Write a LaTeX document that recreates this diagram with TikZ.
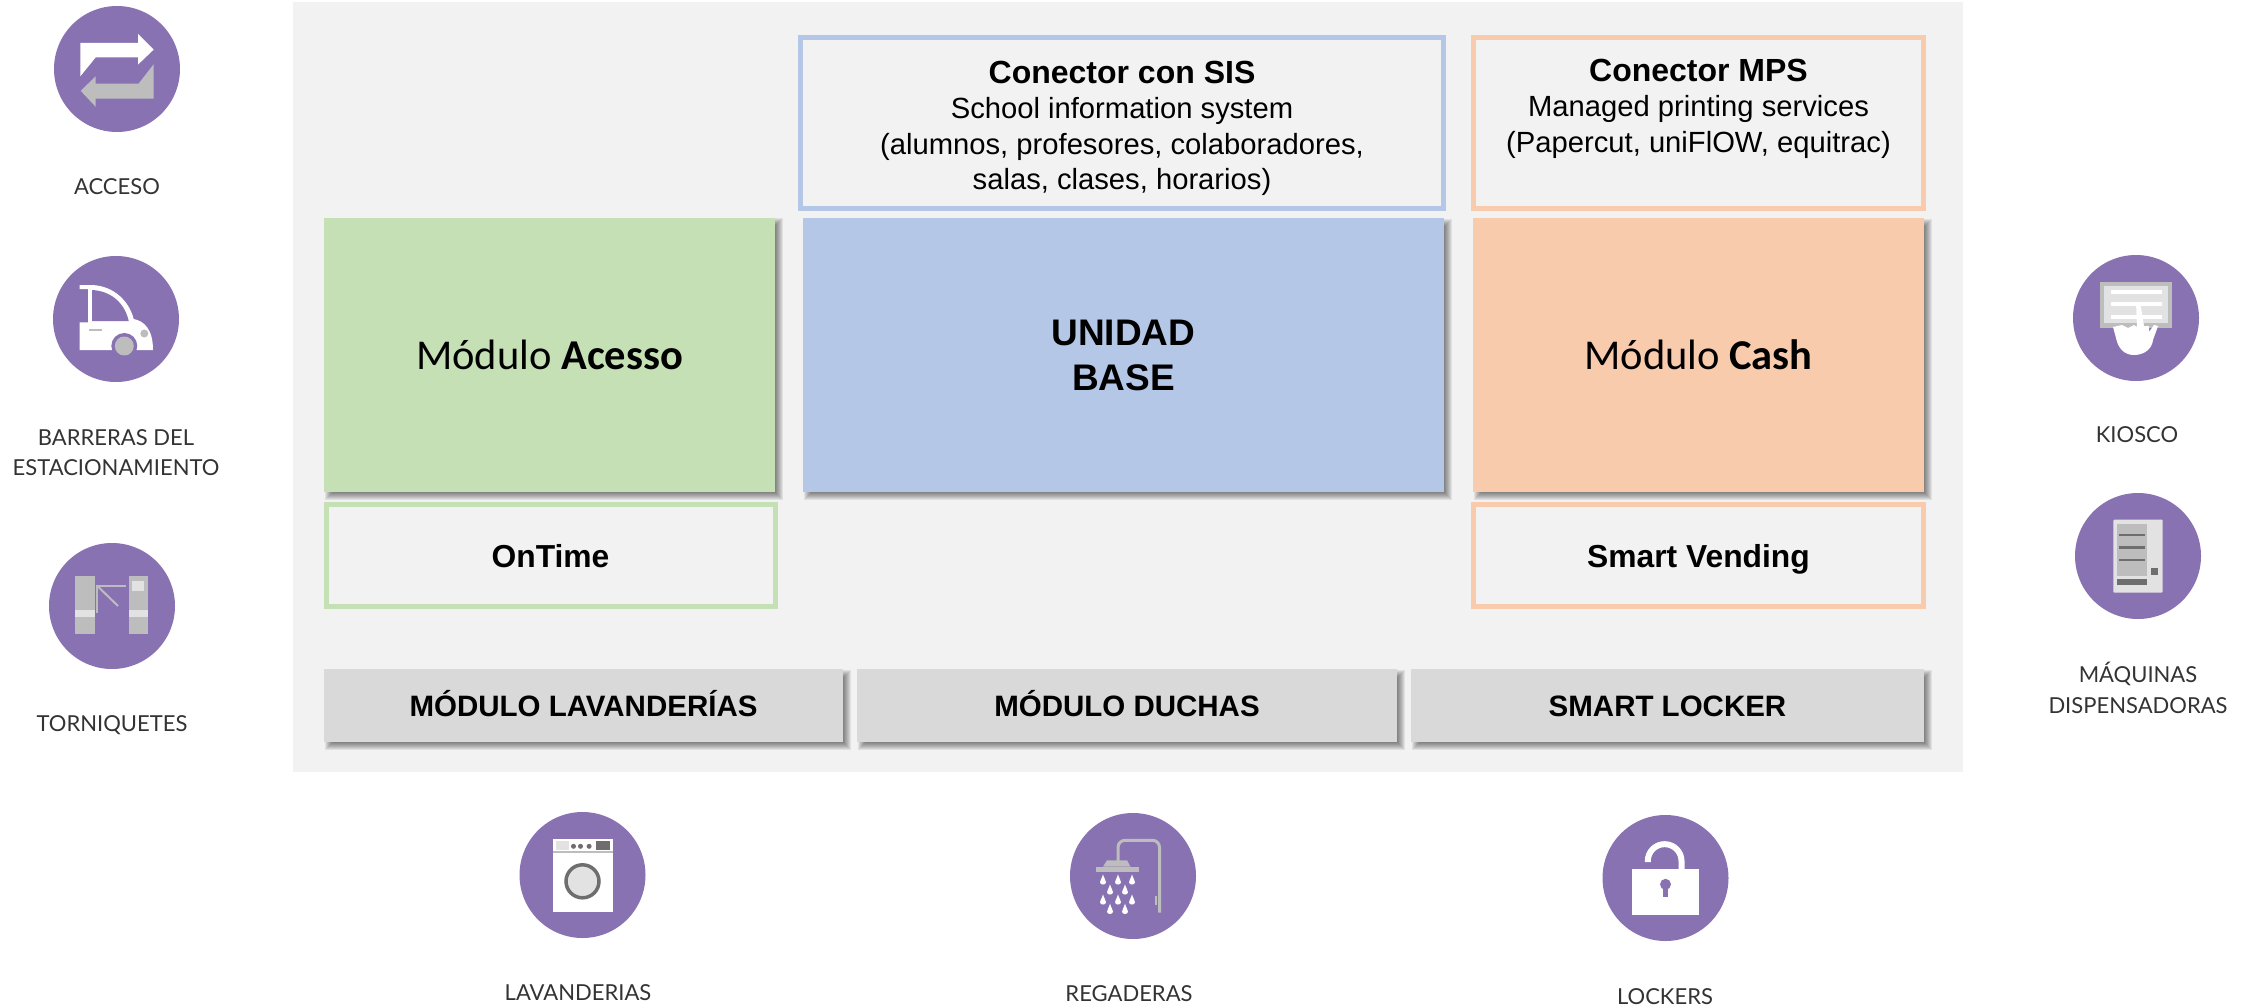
\documentclass[tikz,border=0pt]{standalone}
\usepackage{fontspec}
\setmainfont{Liberation Sans}
\newfontfamily\calfont{Carlito}
\newfontfamily\lblfont{Lato}
\definecolor{panelgray}{HTML}{F2F2F2}
\definecolor{modgreen}{HTML}{C5E0B4}
\definecolor{modblue}{HTML}{B4C7E7}
\definecolor{modorange}{HTML}{F8CBAD}
\definecolor{modgray}{HTML}{D9D9D9}
\definecolor{iconpurple}{HTML}{8872B2}
\definecolor{icongray}{HTML}{BDBDBD}
\definecolor{iconlight}{HTML}{E3E2E3}
\definecolor{icondark}{HTML}{6E6E6E}
\pgfdeclarelayer{backlayer}
\pgfdeclarelayer{shadowlayer}
\pgfsetlayers{backlayer,shadowlayer,main}
\newcommand{\conntitle}[1]{{\bfseries\fontsize{32}{35.5}\selectfont #1}}
\tikzset{
	modbox/.style={rectangle,inner sep=0pt,align=center},
	barbox/.style={fill=modgray,minimum height=73pt,text height=21pt,text depth=0pt,font=\bfseries\fontsize{29.5}{29.5}\selectfont},
	framebox/.style={rectangle,draw,line width=5pt,inner sep=0pt,align=center,text height=23pt,text depth=0pt,font=\bfseries\fontsize{31.8}{31.8}\selectfont},
	frametext/.style={inner sep=0pt,align=center,font=\fontsize{29.2}{35.5}\selectfont},
	iconcircle/.style={circle,fill=iconpurple,minimum size=126pt,inner sep=0pt},
	iconlabel/.style={inner sep=0pt,align=center,text=black!80,font=\lblfont\fontsize{22}{30.5}\selectfont}
}
\begin{document}
\begin{tikzpicture}[x=1pt, y=-1pt]
		\useasboundingbox (0,0) rectangle (2255,1007);
		\begin{pgfonlayer}{backlayer}
			\node[rectangle,fill=panelgray,minimum width=1670pt,minimum height=770pt,inner sep=0pt] (panel) at (1128,387) {};
		\end{pgfonlayer}
		\begin{scope}[every node/.style={modbox}]
			\node[fill=modgreen,minimum width=451pt,minimum height=274pt,font=\calfont\fontsize{42.5}{42.5}\selectfont] (acesso) at (549.5,354.5) {Módulo \textbf{Acesso}};
			\node[fill=modblue,minimum width=641pt,minimum height=274pt,font=\bfseries\fontsize{37}{45}\selectfont] (base) at (1123.5,355) {UNIDAD\\BASE};
			\node[fill=modorange,minimum width=451pt,minimum height=274pt,font=\calfont\fontsize{42.5}{42.5}\selectfont] (cash) at (1698.5,355) {Módulo \textbf{Cash}};
			\node[barbox,minimum width=519pt] (lavanderias) at (583.5,705.5) {MÓDULO LAVANDERÍAS};
			\node[barbox,minimum width=540pt] (duchas) at (1127,705.5) {MÓDULO DUCHAS};
			\node[barbox,minimum width=513pt] (locker) at (1667.5,705.5) {SMART LOCKER};
		\end{scope}
		\begin{pgfonlayer}{shadowlayer}
			\foreach \boxname in {acesso,base,cash,lavanderias,duchas,locker}
				\foreach \k in {1,...,8}
					\fill[black,opacity=.07] ([shift={(9-\k,9-\k)}]\boxname.north west) rectangle ([shift={(\k,\k)}]\boxname.south east);
		\end{pgfonlayer}
		\begin{scope}[every node/.style={framebox}]
			\node[draw=modblue,minimum width=643pt,minimum height=171pt] (sis) at (1122,123) {};
			\node[draw=modorange,minimum width=450pt,minimum height=171pt] (mps) at (1698.5,123) {};
			\node[draw=modgreen,minimum width=449pt,minimum height=102pt] (ontime) at (550.5,555.5) {OnTime};
			\node[draw=modorange,minimum width=450pt,minimum height=102pt] (vending) at (1698.5,555.5) {Smart Vending};
		\end{scope}
		\node[frametext] (sistext) at ([yshift=-5.5pt]sis.center) {\conntitle{Conector con SIS}\\School information system\\(alumnos, profesores, colaboradores,\\salas, clases, horarios)};
		\node[frametext] (mpstext) at ([yshift=14.5pt]mps.center) {\conntitle{Conector MPS}\\Managed printing services\\(Papercut, uniFlOW, equitrac)};
		\begin{scope}[every node/.style={iconcircle}]
			\node (accesoicon) at (117,69) {};
			\node (barreraicon) at (116,319) {};
			\node (torniqueteicon) at (112,606) {};
			\node (kioscoicon) at (2136,318) {};
			\node (maquinaicon) at (2138,556) {};
			\node (lavanderiaicon) at (582.5,875) {};
			\node (regaderaicon) at (1133,876) {};
			\node (lockericon) at (1665.5,878) {};
		\end{scope}
		\begin{scope}[every node/.style={iconlabel}]
			\node (accesolbl) at (117,187) {ACCESO};
			\node (barreralbl) at (116,452.5) {BARRERAS DEL\\ESTACIONAMIENTO};
			\node (torniquetelbl) at (112,725) {TORNIQUETES};
			\node (kioscolbl) at (2137,435) {KIOSCO};
			\node (maquinalbl) at (2138,688) {MÁQUINAS\\DISPENSADORAS};
			\node (lavanderialbl) at (578,993) {LAVANDERIAS};
			\node (regaderalbl) at (1129,994) {REGADERAS};
			\node (lockerlbl) at (1665,997) {LOCKERS};
		\end{scope}
		\begin{scope}[shift={(accesoicon.center)}]
			\fill[white] (-36.7,-26.2) -- (21,-26.2) -- (21,-35) -- (36.7,-19.4) -- (21,-4.4) -- (21,-11.6) -- (-21.3,-11.6) -- (-36.7,7.3) -- cycle;
			\fill[icongray] (36.7,-4.8) -- (36.7,29.6) -- (-21.3,29.6) -- (-21.3,37.8) -- (-36.3,21.8) -- (-21.3,7.3) -- (-21.3,14.5) -- (21.7,14.5) -- cycle;
		\end{scope}
		\begin{scope}[shift={(barreraicon.center)}]
			\fill[white] (-36.3,31) -- (-36.3,3.4) -- (-28,3.4) -- (-28,-30) -- (-36.3,-30) -- (-36.3,-34) -- (-24,-34) .. controls (-2,-33) and (13,-18) .. (17.7,0) .. controls (28,2) and (37,10) .. (37,31) -- cycle;
			\fill[iconpurple] (-24,-29) .. controls (-4,-28) and (9,-15) .. (12.7,2) -- (-24,2) -- cycle;
			\fill[iconpurple] (8.3,27) circle (13);
			\fill[icongray] (8.3,27) circle (9.5);
			\fill[icongray] (28.3,14.5) circle (4);
			\fill[icongray] (-27,9.5) rectangle (-14,12);
		\end{scope}
		\begin{scope}[shift={(torniqueteicon.center)}]
			\fill[icongray] (-37.3,-30) rectangle (-17.3,28);
			\fill[icongray] (16.7,-30) rectangle (36,28);
			\fill[iconlight] (-37.3,4) rectangle (-17.3,10.7);
			\fill[iconlight] (16.7,4) rectangle (36,10.7);
			\fill[iconlight] (20,-25) rectangle (32,-15.5);
			\draw[icongray,line width=2pt] (-15,7.3) -- (-15,-20.4) -- (14.3,-20.4);
			\draw[icongray,line width=2pt] (-15,-20.4) -- (6,0);
		\end{scope}
		\begin{scope}[shift={(kioscoicon.center)}]
			\fill[icongray] (-36,-36) rectangle (36.3,9.7);
			\fill[iconlight] (-32,-32) rectangle (32,5);
			\foreach \liney in {-26,-13.7,-1}
				\fill[white] (-25,\liney-2) rectangle (25.7,\liney+2);
			\fill[white] (-23,9) -- (-14,7) -- (-8,10) -- (-2,7) -- (1,9) -- (0,-16) -- (4,-16) -- (8,8) -- (13,8) -- (13,14) -- (18,7) -- (22,8) -- (17,22) .. controls (16,31) and (8,37) .. (-2,37) .. controls (-12,37) and (-18,30) .. (-20,20) -- cycle;
		\end{scope}
		\begin{scope}[shift={(maquinaicon.center)}]
			\fill[iconlight,rounded corners=1pt] (-24.7,-36.3) rectangle (24.7,36.7);
			\fill[icongray] (-20.7,-32) rectangle (9,19.7);
			\foreach \liney in {-21,-8.7,4}
				\fill[icondark] (-19,\liney-1.2) rectangle (7.3,\liney+1.2);
			\fill[icondark] (-20.7,22.7) rectangle (9,29.3);
			\fill[icondark] (13,12.3) rectangle (20,19.3);
		\end{scope}
		\begin{scope}[shift={(lavanderiaicon.center)}]
			\fill[white] (-30,-36) rectangle (30,37);
			\fill[iconlight] (-27,-33.7) rectangle (-14,-24.7);
			\fill[icondark] (13,-33.7) rectangle (27.4,-24.7);
			\foreach \dotx in {-9,-2,6.6}
				\fill[icondark] (\dotx,-28.7) circle (2.5);
			\draw[icongray,line width=1.2pt] (-30,-23) -- (30,-23);
			\draw[icondark,fill=iconlight,line width=3.5pt] (0,6.3) circle (16.5);
		\end{scope}
		\begin{scope}[shift={(regaderaicon.center)}]
			\draw[icongray,line width=3pt,rounded corners=7pt] (26.5,36.7) -- (26.5,-35.7) -- (-15,-35.7) -- (-15,-14);
			\fill[icongray] (-30,-9.3) -- (-26,-15.7) -- (-6,-15.7) -- (-2.5,-9.3) -- cycle;
			\fill[icongray] (-37.3,-9.3) rectangle (5.8,-4);
			\fill[icongray] (21.5,20) rectangle (24,29.3);
			\foreach \dropx/\dropy in {-30/3.3,-15/3.3,-1/3.3,-23/13.3,-8/13.3,-30/23.3,-15/23.3,-1/23.3,-23/32.7,-8/32.7}
				\fill[white] (\dropx,\dropy-5) .. controls (\dropx+1,\dropy-1) and (\dropx+3,\dropy+1) .. (\dropx+3,\dropy+3) .. controls (\dropx+3,\dropy+6) and (\dropx-3,\dropy+6) .. (\dropx-3,\dropy+3) .. controls (\dropx-3,\dropy+1) and (\dropx-1,\dropy-1) .. cycle;
		\end{scope}
		\begin{scope}[shift={(lockericon.center)}]
			\draw[white,line width=6pt] (-17.7,-16) -- (-17.7,-17) arc[start angle=180,end angle=360,radius=16.85] -- (16,-8);
			\fill[white] (-34,-8.7) rectangle (33,37);
			\fill[iconpurple] (0,6.3) circle (5.5);
			\fill[iconpurple] (-2.5,6.3) rectangle (2.5,19.3);
		\end{scope}
	\end{tikzpicture}
\end{document}
